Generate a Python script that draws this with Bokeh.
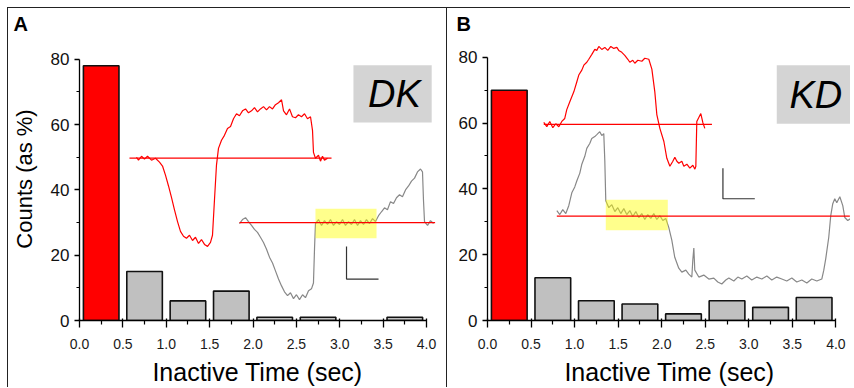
from bokeh.plotting import figure
from bokeh.layouts import row
from bokeh.models import FixedTicker, Range1d, PrintfTickFormatter
from bokeh.core.properties import value
from bokeh.embed import file_html
from bokeh.resources import INLINE

FONT = "Liberation Sans"

# ---------------- data ----------------
bin_centers = [0.25, 0.75, 1.25, 1.75, 2.25, 2.75, 3.25, 3.75]
counts_dk = [78, 15, 6, 9, 1, 1, 0, 1]
counts_kd = [70, 13, 6, 5, 2, 6, 4, 7]

x_ticks = [0.0, 0.5, 1.0, 1.5, 2.0, 2.5, 3.0, 3.5, 4.0]
x_minor = [0.25, 0.75, 1.25, 1.75, 2.25, 2.75, 3.25, 3.75]
y_ticks = [0, 20, 40, 60, 80]
y_minor = [10, 30, 50, 70]

# DK inset traces (in host-axis units)
dk_red_t = [0.657, 0.680, 0.715, 0.749, 0.784, 0.830, 0.876, 0.922, 0.957, 0.991, 1.026, 1.061,
            1.095, 1.130, 1.164, 1.199, 1.233, 1.268, 1.303, 1.337, 1.372, 1.406, 1.441, 1.476,
            1.510, 1.533, 1.556, 1.579, 1.602, 1.637, 1.671, 1.706, 1.741, 1.775, 1.810, 1.844,
            1.879, 1.914, 1.948, 1.983, 2.017, 2.052, 2.086, 2.121, 2.156, 2.190, 2.225, 2.259,
            2.294, 2.329, 2.352, 2.386, 2.421, 2.455, 2.490, 2.524, 2.559, 2.594, 2.628, 2.663,
            2.686, 2.697, 2.720, 2.755, 2.778, 2.801, 2.824, 2.859]
dk_red_v = [50.0, 49.1, 50.3, 49.4, 50.3, 49.1, 49.7, 48.5, 47.3, 44.5, 41.2, 37.6,
            33.9, 30.3, 27.3, 25.8, 25.2, 26.1, 24.5, 25.5, 23.6, 24.8, 23.3, 22.7,
            23.9, 26.1, 37.0, 47.6, 52.7, 55.2, 56.7, 58.8, 59.4, 61.8, 63.3, 62.7,
            64.2, 64.8, 63.6, 64.2, 65.2, 63.9, 64.8, 65.5, 64.5, 65.5, 64.8, 66.1,
            66.7, 67.6, 64.2, 63.0, 64.8, 62.4, 62.1, 63.0, 62.4, 63.3, 61.8, 62.4,
            58.2, 51.5, 49.7, 50.6, 48.8, 50.3, 49.1, 49.7]
dk_gray_t = [1.844, 1.879, 1.914, 1.948, 1.983, 2.017, 2.052, 2.086, 2.121, 2.156, 2.190, 2.225,
             2.259, 2.294, 2.329, 2.363, 2.398, 2.432, 2.467, 2.501, 2.536, 2.571, 2.605, 2.640,
             2.674, 2.697, 2.709, 2.720, 2.755, 2.790, 2.824, 2.859, 2.893, 2.928, 2.963, 2.997,
             3.032, 3.066, 3.101, 3.135, 3.170, 3.205, 3.239, 3.274, 3.308, 3.343, 3.378, 3.412,
             3.447, 3.481, 3.516, 3.550, 3.585, 3.620, 3.654, 3.689, 3.723, 3.758, 3.793, 3.827,
             3.862, 3.896, 3.931, 3.954, 3.965, 3.977, 4.012, 4.046, 4.081]
dk_gray_v = [29.7, 30.9, 31.5, 30.3, 29.1, 27.9, 27.0, 25.5, 23.9, 21.8, 19.4, 17.6,
             15.2, 12.7, 10.6, 8.8, 7.6, 8.5, 6.7, 7.9, 6.4, 7.9, 7.0, 9.1,
             9.7, 11.5, 21.8, 29.7, 30.9, 29.1, 30.6, 29.4, 30.9, 29.1, 30.3, 29.4,
             30.9, 29.1, 30.3, 29.4, 30.9, 29.1, 30.6, 29.4, 30.9, 29.7, 31.2, 30.3,
             32.1, 33.3, 34.5, 33.9, 36.4, 35.8, 37.6, 38.5, 37.9, 40.0, 41.2, 42.7,
             43.6, 45.5, 46.4, 45.5, 37.0, 30.3, 29.1, 30.6, 29.7]
dk_lines_x0 = [0.576, 1.844]
dk_lines_x1 = [2.905, 4.10]
dk_lines_y = [49.7, 30.0]
dk_highlight = [2.720, 3.424, 25.2, 34.2]      # left, right, bottom, top
dk_scale = [3.078, 3.447, 12.7, 22.7]          # x, x_end, y_bottom, y_top

# KD inset traces (in host-axis units)
kd_red_t = [0.646, 0.681, 0.715, 0.750, 0.784, 0.819, 0.853, 0.887, 0.910, 0.945, 0.991, 1.025,
            1.048, 1.083, 1.106, 1.140, 1.163, 1.198, 1.232, 1.255, 1.278, 1.312, 1.347, 1.381,
            1.416, 1.450, 1.485, 1.507, 1.542, 1.576, 1.611, 1.634, 1.668, 1.691, 1.726, 1.772,
            1.806, 1.852, 1.887, 1.921, 1.944, 1.979, 2.025, 2.059, 2.094, 2.128, 2.151, 2.174,
            2.197, 2.231, 2.254, 2.289, 2.323, 2.358, 2.381, 2.392, 2.403, 2.426, 2.449, 2.472,
            2.495]
kd_red_v = [60.2, 58.9, 60.5, 58.6, 59.8, 58.9, 60.5, 61.4, 64.1, 66.5, 69.5, 72.5,
            74.6, 76.1, 77.6, 78.5, 79.4, 80.9, 82.4, 82.1, 83.3, 82.4, 83.0, 82.1,
            83.3, 82.7, 83.0, 82.1, 81.5, 80.6, 79.4, 78.5, 79.1, 78.2, 79.1, 78.8,
            79.7, 79.4, 76.4, 69.5, 62.6, 58.4, 54.4, 49.3, 46.9, 48.4, 49.6, 48.4,
            47.8, 48.4, 46.9, 47.5, 46.3, 47.2, 46.0, 46.9, 60.5, 61.7, 62.9, 60.2,
            58.4]
kd_gray_t = [0.796, 0.830, 0.864, 0.899, 0.933, 0.968, 1.002, 1.025, 1.060, 1.083, 1.117, 1.140,
             1.174, 1.197, 1.232, 1.255, 1.289, 1.312, 1.335, 1.347, 1.358, 1.393, 1.427, 1.462,
             1.496, 1.530, 1.565, 1.599, 1.634, 1.668, 1.703, 1.737, 1.771, 1.806, 1.840, 1.875,
             1.909, 1.944, 1.978, 2.013, 2.047, 2.081, 2.116, 2.150, 2.196, 2.231, 2.277, 2.311,
             2.346, 2.357, 2.369, 2.380, 2.426, 2.483, 2.541, 2.598, 2.644, 2.690, 2.736, 2.771,
             2.828, 2.874, 2.920, 2.977, 3.034, 3.092, 3.149, 3.207, 3.264, 3.321, 3.379, 3.436,
             3.494, 3.551, 3.609, 3.666, 3.723, 3.781, 3.838, 3.861, 3.884, 3.918, 3.941, 3.964,
             3.987, 4.010, 4.045, 4.079, 4.102, 4.136, 4.170]
kd_gray_v = [33.4, 32.2, 33.7, 32.5, 34.9, 38.8, 40.6, 42.4, 44.8, 47.5, 49.9, 52.3,
             53.8, 55.3, 55.9, 56.5, 57.4, 56.2, 56.8, 48.4, 36.4, 34.3, 35.2, 33.1,
             34.3, 32.5, 34.0, 32.2, 33.4, 31.6, 33.1, 31.3, 32.5, 30.7, 32.2, 31.0,
             32.5, 30.7, 31.9, 30.4, 31.0, 28.3, 24.4, 19.2, 15.9, 14.7, 15.3, 14.1,
             13.2, 18.3, 22.0, 15.3, 13.2, 13.8, 12.6, 12.9, 11.7, 11.1, 12.3, 12.9,
             12.0, 13.2, 12.6, 13.5, 12.3, 13.2, 12.6, 13.5, 12.3, 13.2, 12.6, 12.0,
             12.9, 11.7, 12.3, 11.4, 12.6, 12.0, 12.6, 15.3, 18.9, 25.3, 31.9, 35.5,
             37.0, 35.8, 37.6, 34.9, 31.3, 30.4, 31.0]
kd_lines_x0 = [0.646, 0.796]
kd_lines_x1 = [2.577, 4.16]
kd_lines_y = [59.6, 31.7]
kd_highlight = [1.358, 2.070, 27.4, 36.7]
kd_scale = [2.703, 3.069, 37.0, 46.3]

dk_label_box = [3.158, 4.06, 60.6, 78.2]
kd_label_box = [3.321, 4.20, 59.8, 77.6]
dk_label_pos = [3.63, 69.4]
kd_label_pos = [3.77, 68.6]

H = 380


def make_panel(letter, counts, name, name_box, name_pos, red_t, red_v, gray_t, gray_v,
               lx0, lx1, ly, hl, sc, width, left, right, x_end, y_end, ylabel, title_offset,
               extra_styles):
    p = figure(width=width, height=H, x_range=Range1d(0, x_end), y_range=Range1d(0, y_end),
               output_backend="svg", toolbar_location=None,
               min_border_left=left, min_border_right=right,
               min_border_top=28, min_border_bottom=66)
    p.grid.visible = False
    p.outline_line_color = None
    p.background_fill_color = "white"
    p.border_fill_color = "white"
    st = {"border-top": "1px solid #222222", "border-left": "1px solid #222222"}
    st.update(extra_styles)
    p.styles = st

    p.title.text = letter
    p.title.align = "left"
    p.title.offset = title_offset
    p.title.standoff = 5
    p.title.text_font = FONT
    p.title.text_font_size = "20px"
    p.title.text_font_style = "bold"
    p.title.text_color = "black"

    # bars
    xs = [c for c, v in zip(bin_centers, counts) if v > 0]
    tops = [v for v in counts if v > 0]
    colors = ["#ff0000" if i == 0 else "#c0c0c0" for i in range(len(xs))]
    p.vbar(x=xs, top=tops, width=0.41, bottom=0, fill_color=colors,
           line_color="#111111", line_width=1.6)

    # name box
    p.quad(left=[name_box[0]], right=[name_box[1]], bottom=[name_box[2]], top=[name_box[3]],
           fill_color="#d4d4d4", line_color=None)
    p.text(x=[name_pos[0]], y=[name_pos[1]], text=[name], text_font=value(FONT),
           text_font_size="38px", text_font_style="italic", text_color="black",
           text_align="center", text_baseline="middle")

    # traces
    p.line(red_t, red_v, line_color="#ff0000", line_width=1.2)
    p.line(gray_t, gray_v, line_color="#888888", line_width=1.2)
    p.quad(left=[hl[0]], right=[hl[1]], bottom=[hl[2]], top=[hl[3]],
           fill_color="#ffff00", fill_alpha=0.45, line_color=None)
    p.segment(x0=lx0, x1=lx1, y0=ly, y1=ly, line_color="#ff0000", line_width=1.3)

    # scale bar
    p.line([sc[0], sc[0], sc[1]], [sc[3], sc[2], sc[2]], line_color="#333333", line_width=1.2)

    # axes
    xa = p.xaxis[0]
    xa.ticker = FixedTicker(ticks=x_ticks, minor_ticks=x_minor)
    xa.formatter = PrintfTickFormatter(format="%.1f")
    xa.bounds = (0, 4)
    xa.axis_line_width = 1.3
    xa.major_tick_line_width = 1.3
    xa.minor_tick_line_width = 1.2
    xa.major_tick_out = 7
    xa.major_tick_in = 2
    xa.minor_tick_out = 4
    xa.minor_tick_in = 0
    xa.major_label_standoff = 11
    xa.major_label_text_font = FONT
    xa.major_label_text_font_size = "14px"
    xa.major_label_text_color = "#1a1a1a"
    xa.axis_label = "Inactive Time (sec)"
    xa.axis_label_text_font = FONT
    xa.axis_label_text_font_size = "25px"
    xa.axis_label_text_font_style = "normal"
    xa.axis_label_text_color = "black"
    xa.axis_label_standoff = 6

    ya = p.yaxis[0]
    ya.ticker = FixedTicker(ticks=y_ticks, minor_ticks=y_minor)
    ya.bounds = (0, 80)
    ya.axis_line_width = 1.3
    ya.major_tick_line_width = 1.3
    ya.minor_tick_line_width = 1.2
    ya.major_tick_out = 5
    ya.major_tick_in = 0
    ya.minor_tick_out = 3
    ya.minor_tick_in = 0
    ya.major_label_standoff = 5
    ya.major_label_text_font = FONT
    ya.major_label_text_font_size = "17px"
    ya.major_label_text_color = "#111111"
    if ylabel:
        ya.axis_label = ylabel
        ya.axis_label_text_font = FONT
        ya.axis_label_text_font_size = "22px"
        ya.axis_label_text_font_style = "normal"
        ya.axis_label_text_color = "black"
        ya.axis_label_standoff = 11
    return p


pa = make_panel("A", counts_dk, "DK", dk_label_box, dk_label_pos, dk_red_t, dk_red_v,
                dk_gray_t, dk_gray_v, dk_lines_x0, dk_lines_x1, dk_lines_y, dk_highlight, dk_scale,
                width=439, left=71, right=12, x_end=356 / 86.75, y_end=286 / 3.3,
                ylabel="Counts (as %)", title_offset=-66,
                extra_styles={"margin-left": "7px", "margin-top": "7px"})
pb = make_panel("B", counts_kd, "KD", kd_label_box, kd_label_pos, kd_red_t, kd_red_v,
                kd_gray_t, kd_gray_v, kd_lines_x0, kd_lines_x1, kd_lines_y, kd_highlight, kd_scale,
                width=404, left=40, right=0, x_end=364 / 87.1, y_end=286 / 3.325,
                ylabel=None, title_offset=-31,
                extra_styles={"margin-top": "7px"})

layout = row(pa, pb)
open("out.html", "w").write(file_html(layout, INLINE))
